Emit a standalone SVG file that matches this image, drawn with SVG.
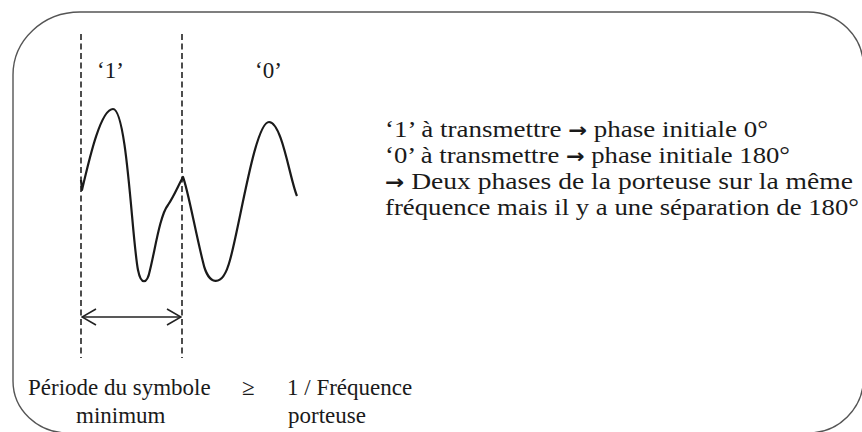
<svg xmlns="http://www.w3.org/2000/svg" width="862" height="432" viewBox="0 0 862 432">
<defs>
<style>
.t{font-family:"Liberation Serif","Times New Roman",serif;fill:#1a1a1a;font-size:23px}
.d{font-size:24px}
.ar{font-family:"DejaVu Sans",sans-serif;font-weight:bold;font-size:20px}
.dash{stroke:#222;stroke-width:1.6;stroke-dasharray:6 3.5;fill:none}
.wave{stroke:#1a1a1a;stroke-width:2.2;fill:none;stroke-linejoin:round}
</style>
<marker id="ah" viewBox="0 0 16 18" refX="15" refY="9" markerWidth="16" markerHeight="18" markerUnits="userSpaceOnUse" orient="auto-start-reverse">
<path d="M1,1 L15,9 L1,17" fill="none" stroke="#222" stroke-width="1.6"/>
</marker>
</defs>
<rect width="862" height="432" fill="#fff"/>
<g id="frame">
<path d="M13,75 A67,63 0 0 1 80,12 L808,12 A55.5,55 0 0 1 863.5,67 L863.5,378 A55.5,55 0 0 1 808,433 L68,433 A55,52 0 0 1 13,381 Z" fill="none" stroke="#555" stroke-width="1.4"/>
</g>
<g id="connectors">
<line class="dash" x1="81" y1="34" x2="81" y2="358"/>
<line class="dash" x1="182" y1="34" x2="182" y2="358"/>
<line x1="82" y1="317" x2="181" y2="317" stroke="#222" stroke-width="1.6" marker-start="url(#ah)" marker-end="url(#ah)"/>
</g>
<g id="wave">
<path class="wave" d="M81,180 L82,190 C88,165 100,109 113,109 C127,109 132,240 138,270 C141,285 147,285 150,270 C155,250 160,215 168,205 C174,196 178,186 183,177 C188,190 195,230 203,262 C208,285 222,290 230,260 C240,225 255,122 269,122 C282,122 290,180 297,196"/>
</g>
<g id="labels">
<text class="t" x="97" y="78">‘1’</text>
<text class="t" x="255" y="78">‘0’</text>
</g>
<g id="description">
<text class="t d" x="385" y="137" textLength="383" lengthAdjust="spacingAndGlyphs">‘1’ à transmettre <tspan class="ar">→</tspan> phase initiale 0°</text>
<text class="t d" x="385" y="163" textLength="405" lengthAdjust="spacingAndGlyphs">‘0’ à transmettre <tspan class="ar">→</tspan> phase initiale 180°</text>
<text class="t d" x="385" y="189" textLength="468" lengthAdjust="spacingAndGlyphs"><tspan class="ar">→</tspan> Deux phases de la porteuse sur la même</text>
<text class="t d" x="385" y="215" textLength="474" lengthAdjust="spacingAndGlyphs">fréquence mais il y a une séparation de 180°</text>
</g>
<g id="formula">
<text class="t" x="28" y="395">Période du symbole</text>
<text class="t" x="76" y="423">minimum</text>
<text class="t" x="242" y="395">≥</text>
<text class="t" x="287" y="395">1 / Fréquence</text>
<text class="t" x="288" y="423">porteuse</text>
</g>
</svg>
